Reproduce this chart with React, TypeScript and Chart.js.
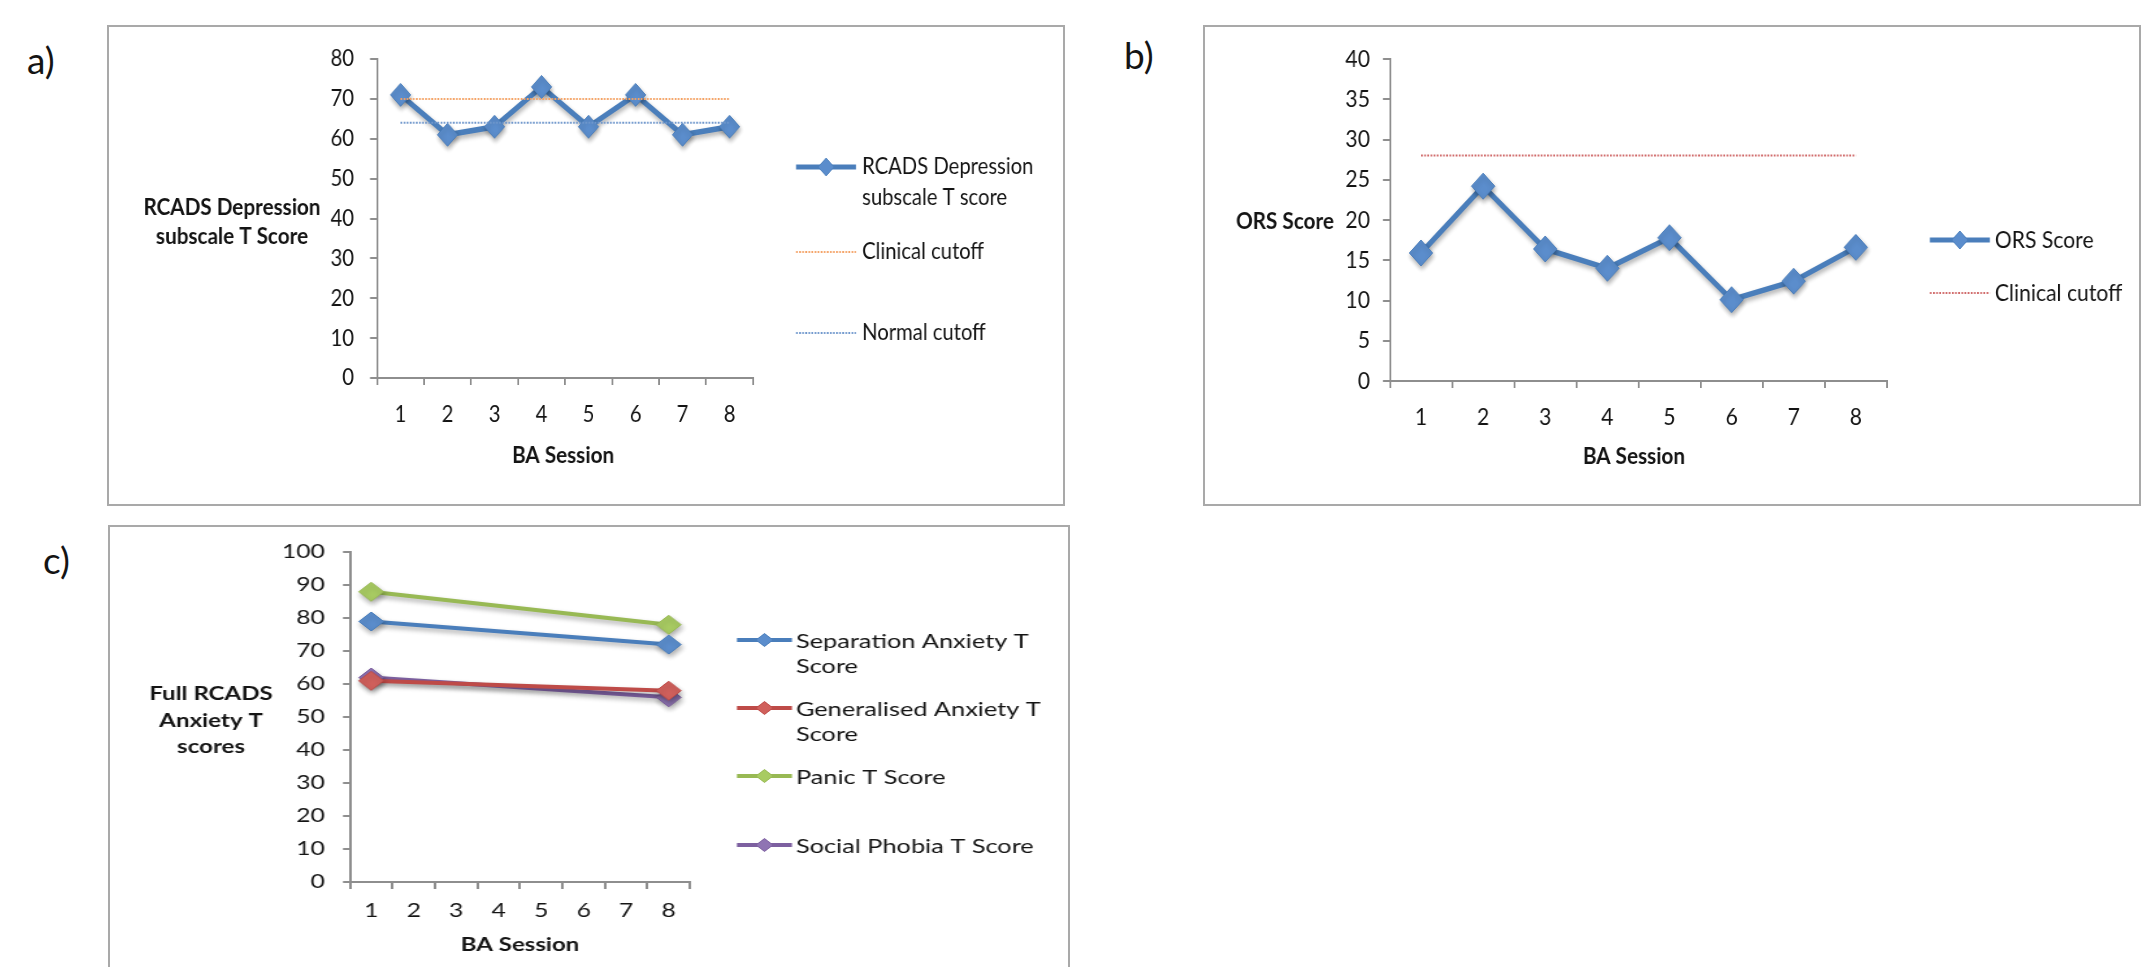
import React, { useEffect, useRef } from "react";
import { Chart, registerables } from "chart.js";
Chart.register(...registerables);

// ---------------- data ----------------
const sessionLabels = ["1", "2", "3", "4", "5", "6", "7", "8"];
const depressionTScore = [71, 61, 63, 73, 63, 71, 61, 63];
const depressionClinicalCutoff = [70, 70, 70, 70, 70, 70, 70, 70];
const depressionNormalCutoff = [64, 64, 64, 64, 64, 64, 64, 64];
const orsScore = [15.9, 24.2, 16.4, 14.0, 17.8, 10.1, 12.4, 16.6];
const orsClinicalCutoff = [28, 28, 28, 28, 28, 28, 28, 28];
const separationAnxiety = [79, null, null, null, null, null, null, 72];
const generalisedAnxiety = [61, null, null, null, null, null, null, 58];
const panicScore = [88, null, null, null, null, null, null, 78];
const socialPhobia = [62, null, null, null, null, null, null, 56];

const depressionAxis = { min: 0, max: 80, step: 10 };
const orsAxis = { min: 0, max: 40, step: 5 };
const anxietyAxis = { min: 0, max: 100, step: 10 };

// ---------------- style ----------------
const FONT = "Lato, 'Open Sans', sans-serif";
const TEXT = "#141414";
const AXIS = "#8e8e8e";
const BORDER = 2;
const BLUE = "#4a7ebb";
const BLUE_FILL = "#5b8dcc";
const RED = "#be4b48";
const RED_FILL = "#d0605c";
const GREEN = "#98b954";
const GREEN_FILL = "#a8cb62";
const PURPLE = "#7d60a0";
const PURPLE_FILL = "#8f74b3";
const ORANGE_DOT = "#f4a265";
const BLUE_DOT = "#6f97cc";
const RED_DOT = "#d06a6a";

type Box = { l: number; t: number; r: number; b: number };
type LegendItem = {
  kind: "series" | "dotted";
  color: string;
  fill?: string;
  lw: number;
  r?: number;
  x1: number;
  x2: number;
  y: number;
  lines: string[];
  tx: number;
  ty: number[];
};
type PanelCfg = {
  box: Box;
  noBottom?: boolean;
  sx: number;
  area: Box;
  axis: { min: number; max: number; step: number };
  font: number;
  titleFont: number;
  legendFont: number;
  yGap: number;
  xLabelY: number;
  datasets: any[];
  yTitle: { x: number; ys: number[]; lines: string[] };
  xTitle: { x: number; y: number; text: string };
  legend: LegendItem[];
};

function seriesDs(label: string, data: any[], color: string, fill: string, lw: number, r: number) {
  return {
    label,
    data,
    borderColor: color,
    borderWidth: lw,
    pointStyle: "rectRot",
    pointRadius: r,
    pointBackgroundColor: fill,
    pointBorderColor: color,
    pointBorderWidth: 1,
    spanGaps: true,
    tension: 0,
    clip: false,
    shadow: true,
  };
}
function dottedDs(label: string, data: number[], color: string) {
  return {
    label,
    data,
    borderColor: color,
    borderWidth: 2,
    borderDash: [2, 1.5],
    pointRadius: 0,
    tension: 0,
    clip: false,
  };
}

const panelA: PanelCfg = {
  box: { l: 107, t: 25, r: 1065, b: 506 },
  sx: 0.88,
  area: { l: 377, r: 753, t: 59, b: 378 },
  axis: depressionAxis,
  font: 23,
  titleFont: 23.5,
  legendFont: 23,
  yGap: 23,
  xLabelY: 415,
  datasets: [
    dottedDs("Clinical cutoff", depressionClinicalCutoff, ORANGE_DOT),
    dottedDs("Normal cutoff", depressionNormalCutoff, BLUE_DOT),
    seriesDs("RCADS Depression subscale T score", depressionTScore, BLUE, BLUE_FILL, 5.5, 11.5),
  ],
  yTitle: { x: 232, ys: [207, 236], lines: ["RCADS Depression", "subscale T Score"] },
  xTitle: { x: 563, y: 455, text: "BA Session" },
  legend: [
    { kind: "series", color: BLUE, fill: BLUE_FILL, lw: 5, r: 9, x1: 796, x2: 856, y: 167, lines: ["RCADS Depression", "subscale T score"], tx: 862, ty: [167, 198] },
    { kind: "dotted", color: ORANGE_DOT, lw: 2, x1: 796, x2: 856, y: 252, lines: ["Clinical cutoff"], tx: 862, ty: [252] },
    { kind: "dotted", color: BLUE_DOT, lw: 2, x1: 796, x2: 856, y: 333, lines: ["Normal cutoff"], tx: 862, ty: [333] },
  ],
};

const panelB: PanelCfg = {
  box: { l: 1203, t: 25, r: 2141, b: 506 },
  sx: 0.9,
  area: { l: 1390, r: 1887, t: 59, b: 381 },
  axis: orsAxis,
  font: 23.5,
  titleFont: 23,
  legendFont: 23.5,
  yGap: 20,
  xLabelY: 417,
  datasets: [
    dottedDs("Clinical cutoff", orsClinicalCutoff, RED_DOT),
    seriesDs("ORS Score", orsScore, BLUE, BLUE_FILL, 5.5, 13),
  ],
  yTitle: { x: 1285, ys: [222], lines: ["ORS Score"] },
  xTitle: { x: 1634, y: 457, text: "BA Session" },
  legend: [
    { kind: "series", color: BLUE, fill: BLUE_FILL, lw: 5, r: 9, x1: 1930, x2: 1990, y: 240, lines: ["ORS Score"], tx: 1995, ty: [240] },
    { kind: "dotted", color: RED_DOT, lw: 2, x1: 1930, x2: 1990, y: 293, lines: ["Clinical cutoff"], tx: 1995, ty: [293] },
  ],
};

const panelC: PanelCfg = {
  box: { l: 108, t: 525, r: 1070, b: 967 },
  noBottom: true,
  sx: 1.3,
  area: { l: 350, r: 690, t: 552, b: 882 },
  axis: anxietyAxis,
  font: 19,
  titleFont: 18.5,
  legendFont: 19.5,
  yGap: 25,
  xLabelY: 911,
  datasets: [
    seriesDs("Separation Anxiety T Score", separationAnxiety, BLUE, BLUE_FILL, 4, 9.5),
    seriesDs("Generalised Anxiety T Score", generalisedAnxiety, RED, RED_FILL, 4, 9.5),
    seriesDs("Panic T Score", panicScore, GREEN, GREEN_FILL, 4, 9.5),
    seriesDs("Social Phobia T Score", socialPhobia, PURPLE, PURPLE_FILL, 4, 9.5),
  ],
  yTitle: { x: 211, ys: [694, 721, 747], lines: ["Full RCADS", "Anxiety T", "scores"] },
  xTitle: { x: 520, y: 945, text: "BA Session" },
  legend: [
    { kind: "series", color: BLUE, fill: BLUE_FILL, lw: 4, r: 6.5, x1: 737, x2: 792, y: 640, lines: ["Separation Anxiety T", "Score"], tx: 796, ty: [642, 667] },
    { kind: "series", color: RED, fill: RED_FILL, lw: 4, r: 6.5, x1: 737, x2: 792, y: 708, lines: ["Generalised Anxiety T", "Score"], tx: 796, ty: [710, 735] },
    { kind: "series", color: GREEN, fill: GREEN_FILL, lw: 4, r: 6.5, x1: 737, x2: 792, y: 776, lines: ["Panic T Score"], tx: 796, ty: [778] },
    { kind: "series", color: PURPLE, fill: PURPLE_FILL, lw: 4, r: 6.5, x1: 737, x2: 792, y: 845, lines: ["Social Phobia T Score"], tx: 796, ty: [847] },
  ],
};

function Panel({ cfg }: { cfg: PanelCfg }) {
  const ref = useRef<HTMLCanvasElement>(null);
  const innerL = cfg.box.l + BORDER;
  const innerT = cfg.box.t + BORDER;
  const cssW = cfg.box.r - cfg.box.l - 2 * BORDER;
  const cssH = cfg.box.b - cfg.box.t - (cfg.noBottom ? BORDER : 2 * BORDER);
  const W = Math.round(cssW / cfg.sx);
  const H = cssH;

  useEffect(() => {
    const canvas = ref.current!;
    const X = (px: number) => (px - innerL) / cfg.sx;
    const Y = (py: number) => py - innerT;
    const yAxisW = 90;
    const xAxisH = 60;
    const tlY = 7 / cfg.sx;
    const tlX = 7;
    const areaL = X(cfg.area.l);
    const areaR = X(cfg.area.r);
    const areaT = Y(cfg.area.t);
    const areaB = Y(cfg.area.b);
    const padding = {
      left: areaL - yAxisW,
      right: W - areaR,
      top: areaT,
      bottom: H - areaB - xAxisH,
    };
    const xPad = cfg.xLabelY - cfg.area.b - tlX - 0.6 * cfg.font;
    const yPad = (cfg.yGap - 7) / cfg.sx;

    const shadowPlugin = {
      id: "shadow",
      beforeDatasetDraw(chart: any, args: any) {
        const ds = chart.data.datasets[args.index];
        if (ds.shadow) {
          const ctx = chart.ctx;
          ctx.save();
          ctx.shadowColor = "rgba(0,0,0,0.33)";
          ctx.shadowBlur = 5;
          ctx.shadowOffsetX = 1;
          ctx.shadowOffsetY = 3;
        }
      },
      afterDatasetDraw(chart: any, args: any) {
        const ds = chart.data.datasets[args.index];
        if (ds.shadow) chart.ctx.restore();
      },
    };

    const decorPlugin = {
      id: "decor",
      afterDraw(chart: any) {
        const ctx = chart.ctx as CanvasRenderingContext2D;
        ctx.save();
        ctx.fillStyle = TEXT;
        ctx.textBaseline = "middle";
        ctx.textAlign = "center";
        ctx.font = `bold ${cfg.titleFont}px ${FONT}`;
        cfg.yTitle.lines.forEach((t, i) => ctx.fillText(t, X(cfg.yTitle.x), Y(cfg.yTitle.ys[i])));
        ctx.fillText(cfg.xTitle.text, X(cfg.xTitle.x), Y(cfg.xTitle.y));
        ctx.font = `${cfg.legendFont}px ${FONT}`;
        ctx.textAlign = "left";
        for (const it of cfg.legend) {
          ctx.save();
          ctx.strokeStyle = it.color;
          ctx.lineWidth = it.lw;
          if (it.kind === "dotted") ctx.setLineDash([2, 1.5]);
          ctx.beginPath();
          ctx.moveTo(X(it.x1), Y(it.y));
          ctx.lineTo(X(it.x2), Y(it.y));
          ctx.stroke();
          if (it.kind === "series" && it.r) {
            const cx = (X(it.x1) + X(it.x2)) / 2;
            const cy = Y(it.y);
            const r = it.r;
            ctx.setLineDash([]);
            ctx.beginPath();
            ctx.moveTo(cx, cy - r);
            ctx.lineTo(cx + r, cy);
            ctx.lineTo(cx, cy + r);
            ctx.lineTo(cx - r, cy);
            ctx.closePath();
            ctx.fillStyle = it.fill || it.color;
            ctx.fill();
            ctx.lineWidth = 1;
            ctx.strokeStyle = it.color;
            ctx.stroke();
          }
          ctx.restore();
          ctx.fillStyle = TEXT;
          it.lines.forEach((t, i) => ctx.fillText(t, X(it.tx), Y(it.ty[i])));
        }
        ctx.restore();
      },
    };

    const chart = new Chart(canvas, {
      type: "line",
      data: { labels: sessionLabels, datasets: cfg.datasets as any },
      options: {
        animation: false,
        responsive: false,
        maintainAspectRatio: false,
        devicePixelRatio: 1,
        layout: { padding },
        plugins: { legend: { display: false }, tooltip: { enabled: false }, title: { display: false } },
        scales: {
          x: {
            type: "category",
            offset: true,
            grid: { offset: true, drawOnChartArea: false, drawTicks: true, tickLength: tlX, color: AXIS, lineWidth: 2 },
            border: { display: true, color: AXIS, width: 2 },
            ticks: { padding: xPad, font: { family: FONT, size: cfg.font }, color: TEXT, maxRotation: 0, autoSkip: false },
            afterFit: (s: any) => {
              s.height = xAxisH;
            },
          },
          y: {
            type: "linear",
            min: cfg.axis.min,
            max: cfg.axis.max,
            grid: { drawOnChartArea: false, drawTicks: true, tickLength: tlY, color: AXIS, lineWidth: 2 },
            border: { display: true, color: AXIS, width: 2 },
            ticks: { stepSize: cfg.axis.step, padding: yPad, font: { family: FONT, size: cfg.font }, color: TEXT },
            afterFit: (s: any) => {
              s.width = yAxisW;
            },
          },
        } as any,
      },
      plugins: [shadowPlugin, decorPlugin] as any,
    });
    return () => chart.destroy();
  }, []);

  return (
    <div
      style={{
        position: "absolute",
        left: cfg.box.l,
        top: cfg.box.t,
        width: cfg.box.r - cfg.box.l - 2 * BORDER,
        height: cssH,
        border: `${BORDER}px solid #a9a9a9`,
        borderBottom: cfg.noBottom ? "none" : `${BORDER}px solid #a9a9a9`,
        background: "#fff",
        overflow: "hidden",
      }}
    >
      <canvas ref={ref} width={W} height={H} style={{ display: "block", width: cssW, height: cssH }} />
    </div>
  );
}

function PanelLabel({ text, x, y }: { text: string; x: number; y: number }) {
  return (
    <div
      style={{
        position: "absolute",
        left: x,
        top: y - 23,
        fontFamily: FONT,
        fontSize: 37,
        lineHeight: "46px",
        color: TEXT,
        whiteSpace: "nowrap",
      }}
    >
      {text}
    </div>
  );
}

export default function App() {
  return (
    <div style={{ position: "absolute", left: 0, top: 0, width: 2145, height: 967, overflow: "hidden", background: "#fff" }}>
      <PanelLabel text="a)" x={27} y={60} />
      <PanelLabel text="b)" x={1124} y={55} />
      <PanelLabel text="c)" x={43} y={560} />
      <Panel cfg={panelA} />
      <Panel cfg={panelB} />
      <Panel cfg={panelC} />
    </div>
  );
}
